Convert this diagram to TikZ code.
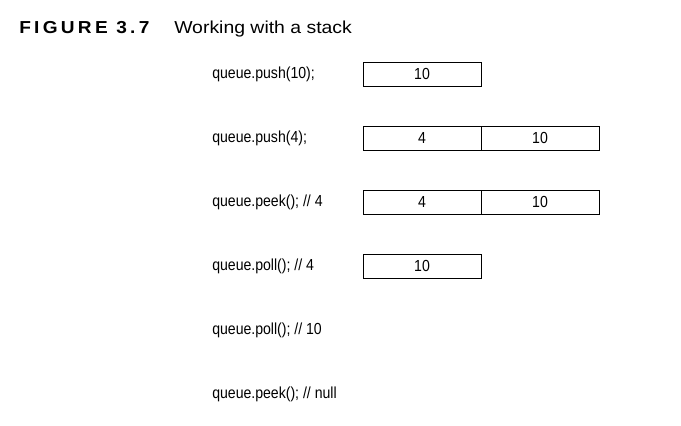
\documentclass[tikz,border=0pt]{standalone}
\usepackage{fontspec}
\setmainfont{Liberation Sans}
\newfontfamily\narrowfont[FakeStretch=0.88]{Liberation Sans}
\newfontfamily\titlefont[FakeStretch=1.12]{Liberation Sans}
\newfontfamily\figfont[LetterSpace=19,FakeStretch=1.1]{Liberation Sans}
\usetikzlibrary{positioning}

\tikzset{
  cell/.style={draw, line width=0.6pt, outer sep=0pt, inner sep=0pt,
    minimum width=88.5pt, minimum height=18pt, font=\narrowfont\fontsize{12}{14}\selectfont},
  code/.style={anchor=west, inner sep=0pt, font=\narrowfont\fontsize{12}{14}\selectfont}
}

\begin{document}
\begin{tikzpicture}[x=0.75pt,y=-0.75pt]
        \useasboundingbox (0,0) rectangle (681,425);

        % Draw the caption
        \node[anchor=base west, inner sep=0pt, font=\figfont\bfseries\fontsize{13}{15}\selectfont] (fig) at (19,33) {FIGURE 3.7};
        \node[anchor=base west, inner sep=0pt, font=\titlefont\fontsize{13}{15}\selectfont] (title) at (174,33) {Working with a stack};

        % Draw the calls
        \node[code] (c1) at (212,74) {queue.push(10);};
        \node[code] (c2) at (212,138) {queue.push(4);};
        \node[code] (c3) at (212,202) {queue.peek(); // 4};
        \node[code] (c4) at (212,266) {queue.poll(); // 4};
        \node[code] (c5) at (212,330) {queue.poll(); // 10};
        \node[code] (c6) at (212,394) {queue.peek(); // null};

        % Draw the stack contents
        \node[cell, anchor=west] (s1a) at (363,74) {10};
        \node[cell, anchor=west] (s2a) at (363,138) {4};
        \node[cell, right=0pt of s2a] (s2b) {10};
        \node[cell, anchor=west] (s3a) at (363,202) {4};
        \node[cell, right=0pt of s3a] (s3b) {10};
        \node[cell, anchor=west] (s4a) at (363,266) {10};

    \end{tikzpicture}
\end{document}
